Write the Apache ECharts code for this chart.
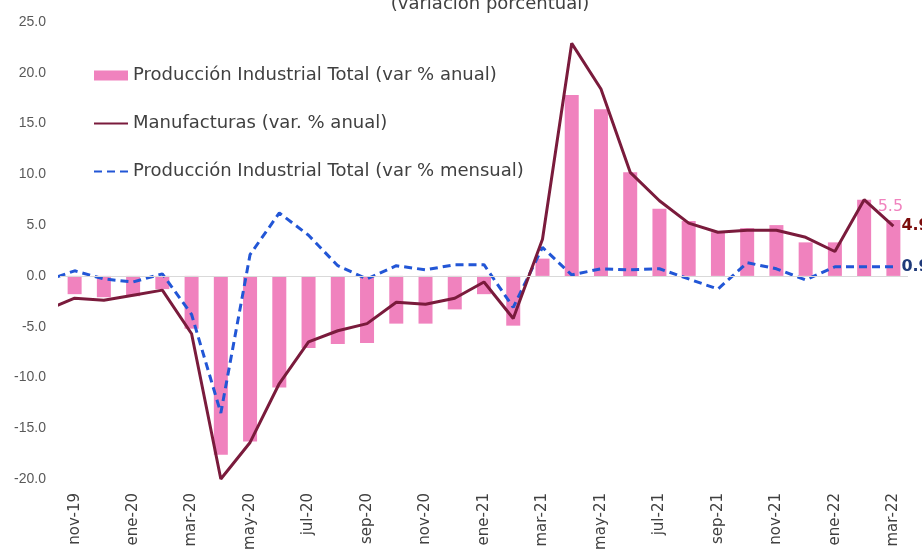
<!DOCTYPE html>
<html>
<head>
<meta charset="utf-8">
<script src="https://cdn.jsdelivr.net/npm/echarts@6/dist/echarts.min.js"></script>
<style>
  html, body { margin: 0; padding: 0; background: #fff; }
  #chart { width: 922px; height: 556px; }
</style>
</head>
<body>
<div id="chart"></div>
<script>
// Producción industrial: barras anuales + manufacturas + variación mensual.

const meses = [
  "oct-19", "nov-19", "dic-19", "ene-20", "feb-20", "mar-20", "abr-20", "may-20",
  "jun-20", "jul-20", "ago-20", "sep-20", "oct-20", "nov-20", "dic-20", "ene-21",
  "feb-21", "mar-21", "abr-21", "may-21", "jun-21", "jul-21", "ago-21", "sep-21",
  "oct-21", "nov-21", "dic-21", "ene-22", "feb-22", "mar-22",
];

// oct-19 queda fuera del área visible (solo asoma el tramo de las líneas)
const prodAnual = [
  null, -1.8, -2.1, -2.0, -1.3, -5.2, -17.6, -16.3, -11.0, -7.1, -6.7, -6.6, -4.7, -4.7,
  -3.3, -1.8, -4.9, 1.7, 17.8, 16.4, 10.2, 6.6, 5.4, 4.3, 4.7, 5.0, 3.3, 3.3, 7.5, 5.5,
];
const manufacturas = [
  -3.4, -2.2, -2.4, -1.9, -1.4, -5.7, -20.0, -16.4, -10.6, -6.5, -5.4, -4.7, -2.6, -2.8,
  -2.2, -0.6, -4.2, 3.6, 22.9, 18.4, 10.2, 7.4, 5.2, 4.3, 4.5, 4.5, 3.8, 2.4, 7.5, 4.9,
];
const prodMensual = [
  -0.5, 0.5, -0.3, -0.6, 0.2, -3.8, -13.5, 2.1, 6.2, 4.0, 1.0, -0.3, 1.0, 0.6,
  1.1, 1.1, -3.1, 2.8, 0.1, 0.7, 0.6, 0.7, -0.3, -1.3, 1.3, 0.7, -0.4, 0.9, 0.9, 0.9,
];

// etiquetas del eje x: uno de cada dos meses, desde nov-19
const labelIdx = [1, 3, 5, 7, 9, 11, 13, 15, 17, 19, 21, 23, 25, 27, 29];

const FONT = "DejaVu Sans";
const PINK = "#F082BE";
const MAROON = "#7A1B3C";
const BLUE = "#2256D6";

const last = meses.length - 1;

function pairs(arr) {
  return arr.map((v, i) => [i, v]);
}

const chart = echarts.init(document.getElementById("chart"), null, { renderer: "canvas" });

chart.setOption({
  animation: false,
  backgroundColor: "#fff",
  title: {
    text: "(variación porcentual)",
    left: 490,
    textAlign: "center",
    top: -5,
    padding: 0,
    textStyle: { fontFamily: FONT, fontSize: 18, fontWeight: "normal", color: "#404040" },
  },
  legend: {
    orient: "vertical",
    left: 93,
    top: 65,
    padding: 0,
    itemWidth: 34,
    itemHeight: 10,
    itemGap: 27,
    textStyle: { fontFamily: FONT, fontSize: 18, color: "#404040", lineHeight: 21 },
    data: [
      { name: "Producción Industrial Total (var % anual)", icon: "rect" },
      { name: "Manufacturas (var. % anual)", itemStyle: { opacity: 0 } },
      { name: "Producción Industrial Total (var % mensual)", itemStyle: { opacity: 0 } },
    ],
  },
  grid: { left: 60, right: 14, top: 22, bottom: 77 },
  xAxis: {
    type: "value",
    min: 0.5,
    max: 29.5,
    splitLine: { show: false },
    axisLine: { show: false },
    axisTick: { show: false },
    axisLabel: {
      customValues: labelIdx,
      rotate: 90,
      margin: 14,
      fontFamily: FONT,
      fontSize: 15,
      color: "#404040",
      formatter: (v) => meses[Math.round(v)],
    },
  },
  yAxis: {
    type: "value",
    min: -20,
    max: 25,
    interval: 5,
    splitLine: { show: false },
    axisLine: { show: false },
    axisTick: { show: false },
    axisLabel: {
      margin: 14,
      fontFamily: "Liberation Sans",
      fontSize: 14,
      color: "#595959",
      formatter: (v) => v.toFixed(1),
    },
  },
  series: [
    {
      name: "Producción Industrial Total (var % anual)",
      type: "bar",
      barWidth: 14,
      itemStyle: { color: PINK },
      data: prodAnual.map((v, i) => {
        if (i !== last) return [i, v];
        return {
          value: [i, v],
          label: {
            show: true,
            position: "top",
            distance: 5,
            offset: [-3, 0],
            formatter: v.toFixed(1),
            color: PINK,
            fontFamily: FONT,
            fontSize: 16,
          },
        };
      }),
      markLine: {
        silent: true,
        symbol: "none",
        label: { show: false },
        lineStyle: { color: "#d9d9d9", width: 1, type: "solid" },
        data: [{ yAxis: 0 }],
      },
      z: 1,
    },
    {
      name: "Manufacturas (var. % anual)",
      type: "line",
      symbol: "none",
      lineStyle: { color: MAROON, width: 3 },
      itemStyle: { color: MAROON },
      endLabel: {
        show: true,
        distance: 8,
        formatter: (p) => p.value[1].toFixed(1),
        color: "#7B0C0C",
        fontWeight: "bold",
        fontFamily: FONT,
        fontSize: 16,
      },
      data: pairs(manufacturas),
      z: 3,
    },
    {
      name: "Producción Industrial Total (var % mensual)",
      type: "line",
      symbol: "none",
      lineStyle: { color: BLUE, width: 3, type: [8, 5] },
      itemStyle: { color: BLUE },
      endLabel: {
        show: true,
        distance: 8,
        formatter: (p) => p.value[1].toFixed(1),
        color: "#1F3A7A",
        fontWeight: "bold",
        fontFamily: FONT,
        fontSize: 16,
      },
      data: pairs(prodMensual),
      z: 2,
    },
  ],
});

window.addEventListener("resize", () => chart.resize());
</script>
</body>
</html>
